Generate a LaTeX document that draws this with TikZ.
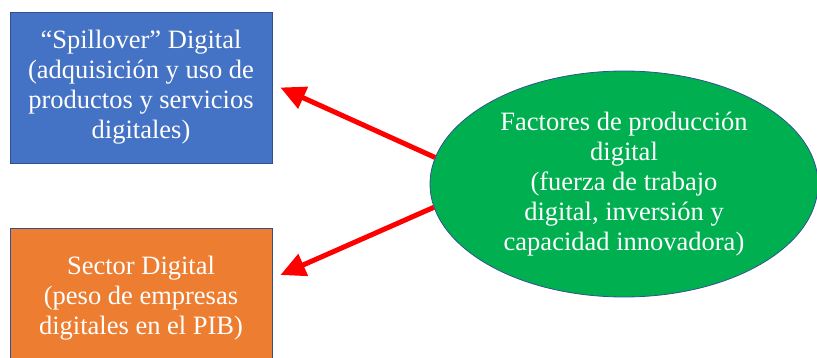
\documentclass[tikz,border=0pt]{standalone}
\usepackage{fontspec}
\setmainfont{Liberation Serif}
\usetikzlibrary{arrows.meta,shapes.geometric}
\definecolor{boxblue}{HTML}{4472C4}
\definecolor{boxorange}{HTML}{ED7D31}
\definecolor{ellgreen}{HTML}{00B050}
\definecolor{edgeblue}{HTML}{2F528F}
\tikzset{
    textnode/.style = {align=center, inner sep=2pt, text centered, font=\fontsize{26.5}{30}\selectfont, white},
    node_box/.style = {textnode, rectangle, draw=edgeblue, line width=0.8pt, minimum width=262pt},
    node_spill/.style = {node_box, fill=boxblue, minimum height=151pt},
    node_sector/.style = {node_box, fill=boxorange, minimum height=140pt},
    node_factor/.style = {textnode, ellipse, draw=edgeblue, line width=0.8pt, fill=ellgreen, minimum width=388pt, minimum height=226pt},
    arrow_red/.style = {draw=red, line width=5pt, -{Triangle[length=25pt,width=23pt]}}
}
\begin{document}
\begin{tikzpicture}
    \useasboundingbox (0pt,0pt) rectangle (817pt,-358pt);
    \node [node_spill] (spill) at (141pt,-87.5pt) {``Spillover'' Digital\\(adquisición y uso de\\productos y servicios\\digitales)};
    \node [node_sector] (sector) at (141pt,-298pt) {Sector Digital\\(peso de empresas\\digitales en el PIB)};
    \node [node_factor] (factor) at (624pt,-184pt) {Factores de producción\\digital\\(fuerza de trabajo\\digital, inversión y\\capacidad innovadora)}; % SOURCE
    \coordinate (tipspill) at ([xshift=8pt]spill.east);
    \coordinate (tipsector) at ([xshift=8pt,yshift=23pt]sector.east);
    \draw [arrow_red] (factor.172) -- (tipspill);
    \draw [arrow_red] (factor.187) -- (tipsector);
\end{tikzpicture}
\end{document}
